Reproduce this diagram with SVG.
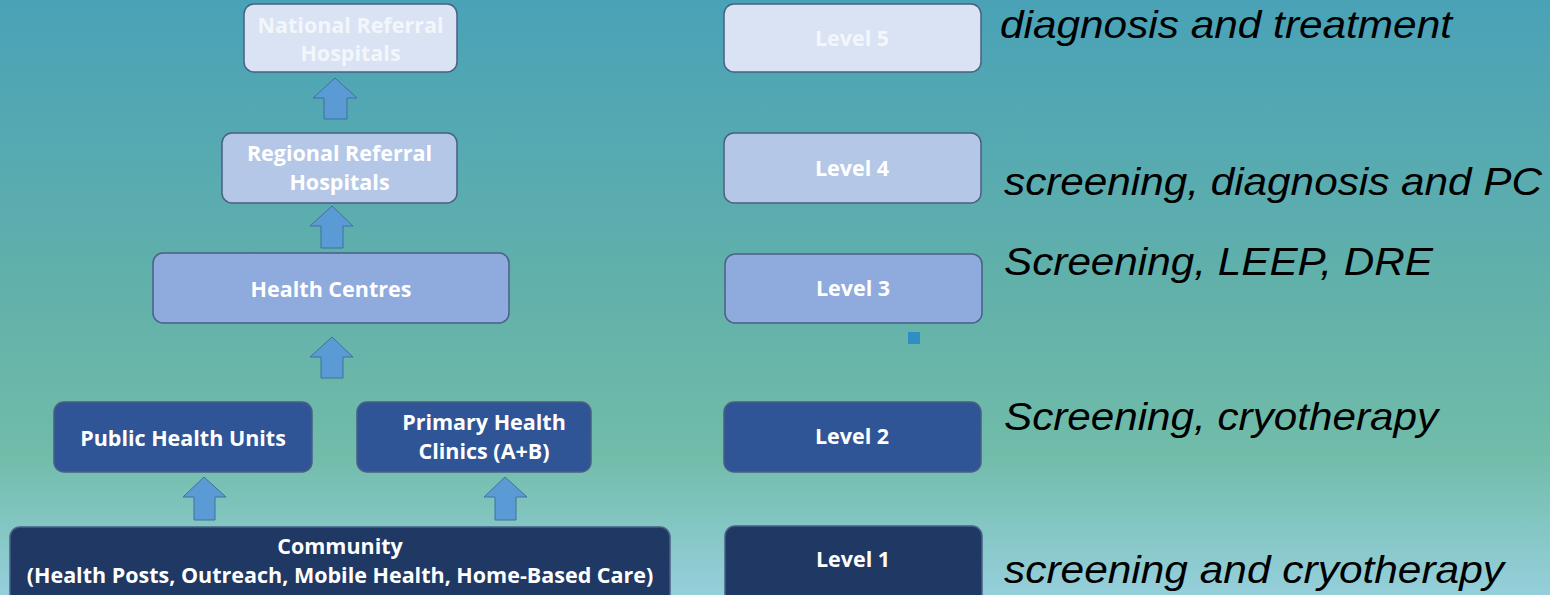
<svg xmlns="http://www.w3.org/2000/svg" width="1550" height="595" viewBox="0 0 1550 595">
<defs>
<linearGradient id="bg" x1="0" y1="0" x2="0" y2="1">
<stop offset="0" stop-color="#4aa2b7"/>
<stop offset="0.5" stop-color="#62b1aa"/>
<stop offset="0.76" stop-color="#71bca9"/>
<stop offset="1" stop-color="#95cfdb"/>
</linearGradient>
<style>
.box{stroke:#4a5f85;stroke-width:1.5}
.l5{fill:#dae3f3}
.l4{fill:#b4c7e7}
.l3{fill:#8faadc}
.l2{fill:#2f5597}
.l1{fill:#1f3864}
.t{font-family:"Open Sans","Liberation Sans",sans-serif;font-weight:bold;font-size:21.5px;fill:#ffffff;text-anchor:middle}
.tf{fill:#f3f6fb}
.it{font-family:"Liberation Sans",Arial,sans-serif;font-style:italic;font-size:39px;fill:#000000}
.arr{fill:#5b9bd5;stroke:#41719c;stroke-width:1}
</style>
</defs>
<rect x="0" y="0" width="1550" height="595" fill="url(#bg)"/>

<g id="connectors">
<polygon class="arr" points="335,78 357,98 347,98 347,119 324,119 324,98 313,98"/>
<polygon class="arr" points="332,206 353,226 343,226 343,248 321,248 321,226 310,226"/>
<polygon class="arr" points="332,337 353,357 343,357 343,378 321,378 321,357 310,357"/>
<polygon class="arr" points="204,477 226,497 215,497 215,520 194,520 194,497 183,497"/>
<polygon class="arr" points="505,477 527,497 516,497 516,520 495,520 495,497 484,497"/>
</g>

<g id="national">
<rect class="box l5" x="244" y="4" width="213" height="68" rx="10"/>
<text class="t tf" x="350.5" y="33">National Referral</text>
<text class="t tf" x="350.5" y="61">Hospitals</text>
</g>
<g id="regional">
<rect class="box l4" x="222" y="133" width="235" height="70" rx="10"/>
<text class="t" x="339.5" y="161">Regional Referral</text>
<text class="t" x="339.5" y="190">Hospitals</text>
</g>
<g id="health-centres">
<rect class="box l3" x="153" y="253" width="356" height="70" rx="10"/>
<text class="t" x="331" y="297">Health Centres</text>
</g>
<g id="public-health-units">
<rect class="box l2" x="54" y="402" width="258" height="70" rx="10"/>
<text class="t" x="183" y="446">Public Health Units</text>
</g>
<g id="primary-health-clinics">
<rect class="box l2" x="357" y="402" width="234" height="70" rx="10"/>
<text class="t" x="484" y="430">Primary Health</text>
<text class="t" x="484" y="459">Clinics (A+B)</text>
</g>
<g id="community">
<rect class="box l1" x="10" y="527" width="660" height="80" rx="10"/>
<text class="t" x="340" y="554">Community</text>
<text class="t" x="340" y="583">(Health Posts, Outreach, Mobile Health, Home-Based Care)</text>
</g>

<g id="level5">
<rect class="box l5" x="724" y="4" width="257" height="68" rx="10"/>
<text class="t tf" x="852" y="46">Level 5</text>
</g>
<g id="level4">
<rect class="box l4" x="724" y="133" width="257" height="70" rx="10"/>
<text class="t" x="852" y="176">Level 4</text>
</g>
<g id="level3">
<rect class="box l3" x="725" y="254" width="257" height="69" rx="10"/>
<text class="t" x="853" y="296">Level 3</text>
</g>
<g id="level2">
<rect class="box l2" x="724" y="402" width="257" height="70" rx="10"/>
<text class="t" x="852" y="444">Level 2</text>
</g>
<g id="level1">
<rect class="box l1" x="725" y="526" width="257" height="80" rx="10"/>
<text class="t" x="853" y="567">Level 1</text>
</g>

<rect x="908" y="332" width="12" height="12" fill="#2f8fc4"/>

<g id="descriptions">
<text class="it" x="1000" y="38" textLength="452" lengthAdjust="spacingAndGlyphs">diagnosis and treatment</text>
<text class="it" x="1004" y="195" textLength="538" lengthAdjust="spacingAndGlyphs">screening, diagnosis and PC</text>
<text class="it" x="1004" y="275" textLength="429" lengthAdjust="spacingAndGlyphs">Screening, LEEP, DRE</text>
<text class="it" x="1004" y="430" textLength="434" lengthAdjust="spacingAndGlyphs">Screening, cryotherapy</text>
<text class="it" x="1004" y="583" textLength="500" lengthAdjust="spacingAndGlyphs">screening and cryotherapy</text>
</g>
</svg>
